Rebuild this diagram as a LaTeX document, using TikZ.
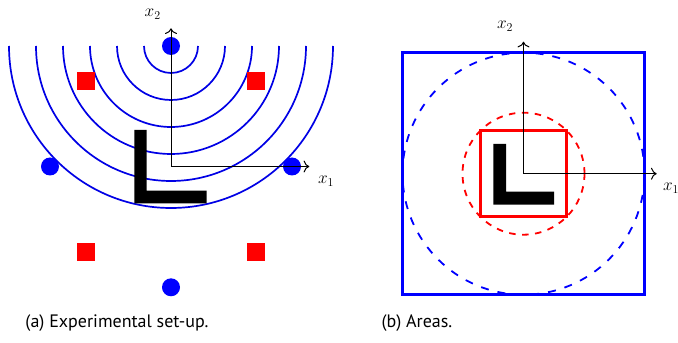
\documentclass[tikz,border=0pt]{standalone}
\usepackage{fontspec}
\setmainfont{PT Sans}
\usetikzlibrary{calc,arrows.meta}
\begin{document}
\begin{tikzpicture}[x=1pt,y=1pt,
  wave/.style={blue!90!black, line width=1.7pt},
  sensor/.style={circle, fill=blue, inner sep=0pt, minimum size=18pt},
  actuator/.style={rectangle, fill=red, inner sep=0pt, minimum size=18.3pt},
  axis/.style={black, line width=1pt, -{To[scale=1.5]}},
  lshape/.style={fill=black},
  axlabel/.style={font=\LARGE, inner sep=0pt},
  caption/.style={font=\fontsize{18}{20}\selectfont, inner sep=0pt}
]
\useasboundingbox (0,0) rectangle (678,343);
% ---------- left panel ----------
\coordinate (O1) at (171,176.5);
\coordinate (C) at (171,297);
\foreach \k in {1,...,6}{
  \draw[wave] ($(C)+(-27*\k,0)$) arc[start angle=180, end angle=360, radius=27*\k];
}
\fill[lshape] (134.3,213) -- (146.7,213) -- (146.7,152.3) -- (206.7,152.3) -- (206.7,139.7) -- (134.3,139.7) -- cycle;
\node[sensor] (s1) at (171,297) {};
\node[sensor] (s2) at (50,176.5) {};
\node[sensor] (s3) at (292,176.5) {};
\node[sensor] (s4) at (171,55.7) {};
\node[actuator] (a1) at (85.7,261.8) {};
\node[actuator] (a2) at (256.3,261.8) {};
\node[actuator] (a3) at (85.7,91.2) {};
\node[actuator] (a4) at (256.3,91.2) {};
\coordinate (X2a) at (171,314.7);
\coordinate (X1a) at (309.3,176.5);
\draw[axis] (O1) -- (X2a);
\draw[axis] (O1) -- (X1a);
\node[axlabel] (lx2a) at (152.7,329) {$x_2$};
\node[axlabel] (lx1a) at (326,162) {$x_1$};
% ---------- right panel ----------
\coordinate (O2) at (523.5,169.3);
\draw[blue, line width=3pt] (402.5,48.3) rectangle (644.5,290.3);
\draw[blue, line width=1.8pt, dash pattern=on 8pt off 9pt] (O2) circle[radius=121];
\draw[red, line width=1.8pt, dash pattern=on 6.5pt off 6.5pt] (O2) circle[radius=61];
\fill[lshape] (493.3,199) -- (506,199) -- (506,151.3) -- (554,151.3) -- (554,138.3) -- (493.3,138.3) -- cycle;
\draw[red, line width=3pt] (480.5,126.3) rectangle (566.5,212.3);
\coordinate (X2b) at (523.5,301.3);
\coordinate (X1b) at (656.7,169.3);
\draw[axis] (O2) -- (X2b);
\draw[axis] (O2) -- (X1b);
\node[axlabel] (lx2b) at (505,317) {$x_2$};
\node[axlabel] (lx1b) at (671,155) {$x_1$};
% ---------- captions ----------
\node[caption] (capa) at (117,20) {(a) Experimental set-up.};
\node[caption] (capb) at (417,20) {(b) Areas.};
\end{tikzpicture}
\end{document}
